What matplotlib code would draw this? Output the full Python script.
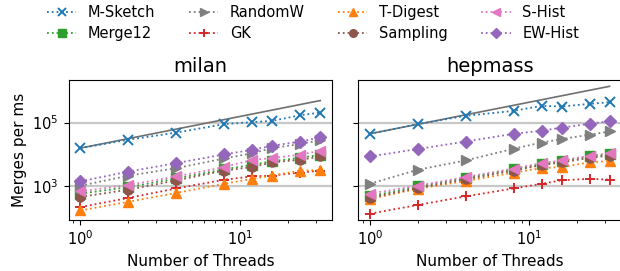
import numpy as np
import matplotlib.pyplot as plt

threads = [1, 2, 4, 8, 12, 16, 24, 32]

# merges per ms
milan = {
    "M-Sketch": [1.55e4, 2.85e4, 4.8e4, 8.9e4, 1.03e5, 1.13e5, 1.7e5, 2.07e5],
    "Merge12": [5.6e2, 9.0e2, 1.7e3, 3.3e3, 4.6e3, 6.0e3, 7.6e3, 9.5e3],
    "RandomW": [1.0e3, 2.07e3, 3.6e3, 7.3e3, 1.07e4, 1.55e4, 2.08e4, 2.77e4],
    "GK": [2.1e2, 4.1e2, 8.2e2, 1.55e3, 1.97e3, 2.1e3, 2.6e3, 3.0e3],
    "T-Digest": [1.65e2, 3.1e2, 5.9e2, 1.15e3, 1.65e3, 2.1e3, 3.0e3, 3.1e3],
    "Sampling": [4.4e2, 7.5e2, 1.48e3, 3.0e3, 3.9e3, 5.5e3, 6.6e3, 8.4e3],
    "S-Hist": [6.6e2, 1.05e3, 1.97e3, 3.9e3, 6.6e3, 7.5e3, 9.6e3, 1.28e4],
    "EW-Hist": [1.37e3, 2.8e3, 5.2e3, 9.8e3, 1.37e4, 1.84e4, 2.5e4, 3.4e4],
}
hepmass = {
    "M-Sketch": [4.4e4, 8.9e4, 1.63e5, 2.34e5, 3.37e5, 3.2e5, 3.9e5, 4.4e5],
    "Merge12": [4.6e2, 9.5e2, 1.75e3, 3.3e3, 4.8e3, 6.0e3, 8.4e3, 9.8e3],
    "RandomW": [1.15e3, 3.2e3, 6.3e3, 1.48e4, 2.33e4, 3.0e4, 4.1e4, 5.2e4],
    "GK": [1.3e2, 2.45e2, 4.6e2, 8.2e2, 1.15e3, 1.48e3, 1.65e3, 1.55e3],
    "T-Digest": [3.8e2, 8.0e2, 1.4e3, 2.6e3, 3.6e3, 3.9e3, 5.5e3, 6.0e3],
    "Sampling": [4.1e2, 8.5e2, 1.6e3, 3.0e3, 4.5e3, 5.5e3, 7.6e3, 9.0e3],
    "S-Hist": [5.6e2, 1.0e3, 1.89e3, 3.5e3, 5.2e3, 6.3e3, 8.9e3, 1.07e4],
    "EW-Hist": [8.4e3, 1.45e4, 2.5e4, 4.4e4, 5.5e4, 6.9e4, 9.1e4, 1.1e5],
}
# linear-scaling reference line (endpoints at 1 and 32 threads)
ideal_threads = [1, 32]
ideal_milan = [1.55e4, 4.96e5]
ideal_hepmass = [4.4e4, 1.4e6]

sketches = ["M-Sketch", "Merge12", "RandomW", "GK", "T-Digest", "Sampling", "S-Hist", "EW-Hist"]
colors = {"M-Sketch": "C0", "Merge12": "C2", "RandomW": "C7", "GK": "C3",
          "T-Digest": "C1", "Sampling": "C5", "S-Hist": "C6", "EW-Hist": "C4"}
markers = {"M-Sketch": "x", "Merge12": "s", "RandomW": ">", "GK": "+",
           "T-Digest": "^", "Sampling": "o", "S-Hist": "<", "EW-Hist": "D"}

fig, axes = plt.subplots(1, 2, figsize=(6.2, 2.71), dpi=100, sharey=True)
fig.subplots_adjust(left=0.1105, right=1.0025, bottom=0.188, top=0.705, wspace=0.097)

panels = [("milan", milan, ideal_milan), ("hepmass", hepmass, ideal_hepmass)]
for ax, (name, data, ideal) in zip(axes, panels):
    ax.plot(ideal_threads, ideal, color="#707070", lw=1.2, zorder=1)
    for s in sketches:
        ax.plot(threads, data[s], ls=":", lw=1.3, color=colors[s], marker=markers[s],
                markersize=6.5, markeredgewidth=1.4 if markers[s] in "x+" else 1,
                label=s)
    ax.set_xscale("log")
    ax.set_yscale("log")
    ax.set_yticks([1e3, 1e5])
    ax.yaxis.set_minor_locator(plt.NullLocator())
    ax.grid(axis="y", which="major", color="#c8c8c8", lw=1.6, zorder=0)
    ax.set_axisbelow(True)
    ax.set_title(name, fontsize=14)
    ax.set_xlabel("Number of Threads", fontsize=11)
    ax.tick_params(labelsize=10.5)

axes[0].set_ylabel("Merges per ms", fontsize=11)
axes[1].tick_params(labelleft=False)

handles, labels = axes[0].get_legend_handles_labels()
fig.legend(handles, labels, loc="upper center", bbox_to_anchor=(0.505, 1.03), ncol=4,
           frameon=False, fontsize=10.5, columnspacing=2.3, labelspacing=0.4,
           markerscale=0.85)

fig.savefig("out.png", dpi=100)
